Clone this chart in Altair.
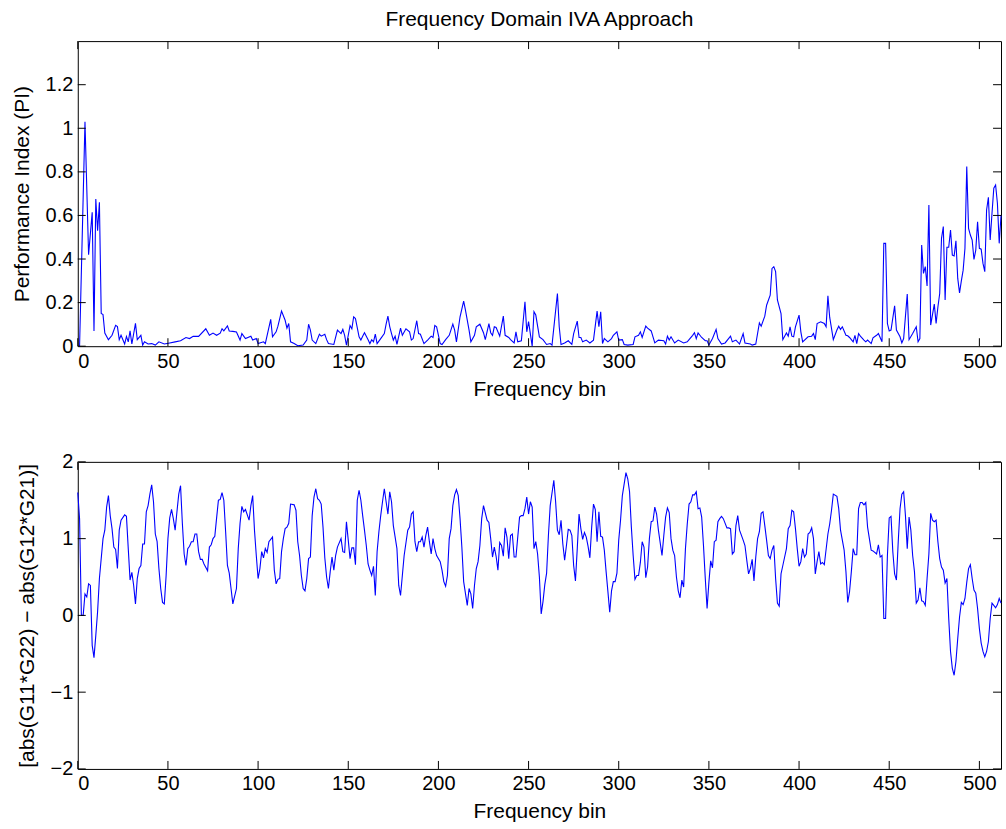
import altair as alt
import pandas as pd

# Performance index per frequency bin (upper panel)
pi_bins = [1, 4, 6, 8, 9, 10, 11, 12, 13, 14, 15, 17, 19, 21, 22, 23, 24, 26, 27, 28, 29, 30, 32, 33, 35, 36, 37, 39,
           41, 43, 45, 48, 51, 54, 57, 60, 62, 64, 67, 71, 73, 75, 77, 79, 80, 81, 83, 84, 86, 88, 90, 91, 93, 96, 97,
           99, 100, 103, 104, 107, 108, 110, 111, 113, 115, 116, 117, 118, 120, 122, 125, 127, 128, 129, 130, 132, 134,
           135, 137, 138, 139, 142, 144, 146, 147, 148, 149, 151, 152, 153, 154, 156, 157, 158, 159, 161, 162, 163, 164,
           165, 166, 168, 170, 171, 172, 173, 174, 175, 176, 177, 179, 180, 182, 184, 185, 186, 188, 189, 190, 192, 194,
           196, 197, 198, 199, 201, 202, 204, 206, 208, 209, 210, 212, 214, 215, 217, 218, 220, 221, 223, 225, 226, 228,
           229, 230, 231, 232, 234, 236, 237, 239, 240, 242, 243, 244, 246, 248, 249, 250, 252, 253, 254, 256, 258, 260,
           262, 263, 266, 267, 268, 270, 272, 274, 275, 277, 278, 279, 280, 282, 284, 286, 288, 289, 290, 291, 292, 294,
           296, 297, 299, 300, 302, 303, 305, 308, 309, 311, 312, 313, 315, 316, 318, 320, 322, 325, 326, 327, 328, 329,
           331, 333, 336, 338, 339, 341, 342, 343, 344, 346, 348, 349, 350, 352, 354, 355, 357, 359, 362, 363, 365, 367,
           369, 370, 373, 374, 376, 378, 379, 381, 382, 384, 385, 386, 387, 388, 390, 391, 393, 394, 395, 396, 397, 398,
           400, 401, 402, 405, 407, 408, 409, 410, 412, 414, 415, 416, 417, 419, 421, 422, 423, 424, 426, 427, 428, 429,
           430, 431, 432, 433, 434, 436, 437, 438, 440, 441, 443, 444, 446, 447, 448, 449, 450, 451, 453, 454, 456, 457,
           458, 460, 461, 463, 465, 466, 467, 468, 469, 470, 471, 472, 473, 475, 476, 477, 478, 479, 480, 481, 482, 483,
           484, 485, 486, 487, 488, 489, 490, 491, 492, 493, 494, 495, 496, 497, 498, 499, 500, 501, 502, 503, 504, 505,
           506, 507, 508, 509, 510, 511, 512]
pi_vals = [0.0, 1.03, 0.42, 0.615, 0.07, 0.675, 0.53, 0.66, 0.15, 0.145, 0.06, 0.03, 0.05, 0.096, 0.09, 0.03, 0.05,
           0.01, 0.045, 0.02, 0.07, 0.01, 0.105, 0.03, 0.05, 0.005, 0.02, 0.01, 0.012, 0.005, 0.02, 0.01, 0.015, 0.02,
           0.025, 0.04, 0.035, 0.045, 0.045, 0.08, 0.05, 0.06, 0.05, 0.06, 0.08, 0.07, 0.093, 0.07, 0.068, 0.065, 0.028,
           0.058, 0.035, 0.046, 0.028, 0.035, 0.012, 0.02, 0.012, 0.123, 0.043, 0.066, 0.092, 0.161, 0.119, 0.083, 0.104,
           0.02, 0.012, 0.002, 0.005, 0.028, 0.101, 0.074, 0.028, 0.012, 0.055, 0.046, 0.055, 0.03, 0.012, 0.008, 0.074,
           0.058, 0.077, 0.05, 0.005, 0.095, 0.08, 0.135, 0.127, 0.043, 0.028, 0.046, 0.062, 0.03, 0.012, 0.03, 0.02,
           0.055, 0.012, 0.035, 0.058, 0.101, 0.138, 0.09, 0.058, 0.028, 0.046, 0.008, 0.083, 0.05, 0.08, 0.066, 0.028,
           0.035, 0.117, 0.058, 0.055, 0.012, 0.028, 0.046, 0.04, 0.095, 0.089, 0.012, 0.008, 0.03, 0.05, 0.101, 0.074,
           0.02, 0.135, 0.207, 0.166, 0.074, 0.02, 0.05, 0.089, 0.101, 0.062, 0.03, 0.104, 0.062, 0.05, 0.089, 0.086,
           0.046, 0.138, 0.05, 0.04, 0.03, 0.015, 0.066, 0.02, 0.025, 0.204, 0.066, 0.113, 0.0, 0.158, 0.143, 0.043,
           0.03, 0.008, 0.012, 0.005, 0.242, 0.089, 0.008, 0.015, 0.025, 0.008, 0.058, 0.115, 0.04, 0.04, 0.02, 0.028,
           0.015, 0.028, 0.161, 0.089, 0.158, 0.012, 0.035, 0.02, 0.035, 0.05, 0.066, 0.028, 0.03, 0.008, 0.005, 0.008,
           0.043, 0.05, 0.066, 0.04, 0.092, 0.083, 0.07, 0.015, 0.028, 0.025, 0.01, 0.046, 0.028, 0.043, 0.015, 0.028,
           0.015, 0.02, 0.03, 0.05, 0.062, 0.035, 0.061, 0.04, 0.025, 0.025, 0.005, 0.035, 0.077, 0.035, 0.01, 0.015,
           0.046, 0.02, 0.028, 0.01, 0.058, 0.015, 0.01, 0.005, 0.01, 0.107, 0.092, 0.138, 0.188, 0.234, 0.357, 0.365,
           0.342, 0.212, 0.15, 0.03, 0.061, 0.046, 0.089, 0.046, 0.043, 0.089, 0.143, 0.066, 0.02, 0.043, 0.046, 0.058,
           0.03, 0.104, 0.112, 0.104, 0.089, 0.231, 0.132, 0.03, 0.074, 0.092, 0.077, 0.089, 0.05, 0.048, 0.04, 0.03,
           0.02, 0.05, 0.012, 0.058, 0.046, 0.028, 0.02, 0.028, 0.012, 0.038, 0.05, 0.058, 0.02, 0.472, 0.472, 0.104,
           0.07, 0.074, 0.185, 0.074, 0.043, 0.015, 0.035, 0.239, 0.03, 0.058, 0.089, 0.02, 0.035, 0.464, 0.334, 0.365,
           0.276, 0.648, 0.097, 0.193, 0.104, 0.18, 0.242, 0.495, 0.549, 0.212, 0.454, 0.454, 0.533, 0.418, 0.414,
           0.484, 0.311, 0.245, 0.3, 0.349, 0.449, 0.824, 0.541, 0.51, 0.487, 0.398, 0.441, 0.571, 0.449, 0.445, 0.38,
           0.342, 0.625, 0.683, 0.487, 0.61, 0.725, 0.74, 0.656, 0.472, 0.6]

# Magnitude difference per frequency bin (lower panel)
diff_bins = [0, 1, 2, 3, 4, 5, 6, 7, 8, 9, 10, 11, 12, 14, 15, 16, 17, 18, 19, 20, 21, 22, 23, 24, 26, 27, 28, 29, 30,
             31, 32, 33, 34, 35, 36, 37, 38, 39, 40, 41, 42, 43, 44, 45, 46, 47, 48, 49, 50, 51, 52, 53, 54, 55, 56, 57,
             58, 59, 60, 61, 62, 63, 64, 65, 66, 67, 68, 69, 70, 72, 73, 74, 75, 76, 77, 78, 79, 80, 81, 82, 83, 84, 85,
             86, 88, 89, 90, 91, 92, 93, 95, 96, 97, 98, 99, 100, 101, 102, 103, 104, 105, 106, 108, 109, 110, 111, 112,
             113, 114, 115, 116, 117, 118, 120, 121, 122, 123, 124, 125, 126, 127, 128, 129, 130, 131, 132, 133, 134, 135,
             136, 137, 138, 139, 140, 141, 142, 143, 144, 146, 147, 148, 149, 150, 151, 152, 153, 154, 155, 156, 157, 158,
             159, 160, 161, 162, 163, 164, 165, 166, 167, 168, 169, 170, 171, 172, 173, 174, 175, 177, 178, 179, 180, 181,
             183, 184, 185, 186, 187, 188, 189, 190, 191, 192, 193, 194, 195, 196, 197, 198, 199, 201, 202, 203, 204, 205,
             206, 207, 208, 209, 210, 211, 212, 213, 214, 216, 217, 218, 219, 220, 221, 222, 223, 224, 225, 227, 228, 229,
             230, 231, 232, 233, 234, 235, 236, 237, 238, 239, 240, 241, 242, 243, 245, 246, 247, 248, 249, 250, 251, 252,
             253, 254, 255, 256, 257, 258, 259, 260, 261, 262, 264, 265, 266, 267, 268, 269, 270, 271, 272, 273, 274, 275,
             276, 277, 278, 279, 280, 281, 282, 283, 284, 285, 286, 287, 288, 289, 290, 291, 292, 293, 294, 295, 296, 297,
             298, 299, 300, 301, 302, 304, 305, 306, 307, 308, 309, 310, 311, 312, 313, 314, 315, 316, 317, 318, 319, 320,
             321, 322, 324, 325, 326, 327, 328, 329, 330, 331, 332, 333, 334, 335, 336, 337, 338, 339, 340, 341, 342, 343,
             344, 345, 346, 347, 348, 349, 350, 351, 352, 353, 354, 355, 356, 357, 358, 360, 361, 362, 363, 364, 365, 366,
             367, 369, 370, 371, 372, 373, 374, 375, 376, 377, 378, 379, 380, 381, 382, 383, 384, 385, 386, 387, 388, 389,
             390, 391, 393, 394, 395, 396, 397, 398, 399, 400, 401, 402, 403, 404, 405, 406, 407, 408, 409, 410, 411, 412,
             413, 414, 416, 417, 418, 419, 421, 422, 423, 425, 426, 427, 428, 429, 430, 431, 432, 433, 434, 435, 436, 437,
             438, 439, 440, 441, 443, 444, 445, 446, 447, 448, 449, 450, 451, 452, 453, 454, 455, 456, 457, 458, 459, 460,
             461, 462, 463, 464, 465, 466, 467, 468, 469, 470, 471, 472, 473, 474, 475, 476, 477, 478, 479, 480, 481, 482,
             483, 484, 485, 486, 487, 488, 489, 490, 491, 492, 493, 494, 495, 496, 497, 498, 499, 500, 501, 502, 503, 504,
             505, 506, 507, 508, 509, 510, 511, 512]
diff_vals = [1.6, 1.26, 0.0, 0.0, 0.28, 0.24, 0.41, 0.39, -0.39, -0.55, -0.26, 0.05, 0.48, 1.0, 1.11, 1.41, 1.56, 1.3,
             1.13, 0.89, 0.86, 0.61, 1.11, 1.24, 1.31, 1.29, 0.87, 0.46, 0.56, 0.39, 0.15, 0.48, 0.61, 0.65, 0.93, 0.93,
             1.35, 1.43, 1.58, 1.7, 1.48, 1.06, 0.96, 0.61, 0.35, 0.17, 0.15, 0.52, 1.0, 1.27, 1.38, 1.26, 1.11, 1.35,
             1.58, 1.69, 1.2, 0.8, 0.65, 0.87, 0.9, 0.96, 0.96, 1.06, 1.06, 0.83, 0.73, 0.73, 0.67, 0.58, 0.89, 0.92,
             1.0, 1.03, 1.27, 1.5, 1.51, 1.6, 1.5, 1.09, 0.65, 0.55, 0.35, 0.15, 0.35, 0.87, 1.2, 1.42, 1.35, 1.38, 1.24,
             1.43, 1.56, 1.11, 0.78, 0.48, 0.61, 0.83, 0.75, 0.87, 0.82, 0.96, 1.02, 0.59, 0.41, 0.47, 0.48, 0.83, 1.0,
             1.13, 1.15, 1.2, 1.45, 1.44, 1.37, 0.96, 0.78, 0.52, 0.35, 0.32, 0.48, 0.74, 0.76, 1.3, 1.54, 1.65, 1.52,
             1.5, 1.45, 1.15, 0.75, 0.5, 0.35, 0.57, 0.76, 0.59, 0.78, 0.89, 1.0, 0.83, 0.82, 1.22, 0.98, 0.74, 0.88,
             0.88, 0.66, 1.5, 1.63, 1.5, 1.3, 1.11, 0.91, 0.67, 0.59, 0.52, 0.64, 0.26, 0.83, 1.09, 1.3, 1.48, 1.65,
             1.48, 1.32, 1.61, 1.48, 1.17, 0.87, 0.39, 0.26, 0.52, 0.78, 1.11, 1.15, 1.32, 1.35, 0.96, 0.83, 0.96, 0.96,
             1.02, 0.89, 1.04, 1.15, 0.96, 0.8, 1.0, 0.87, 0.78, 0.7, 0.59, 0.44, 0.38, 0.52, 1.0, 1.13, 1.43, 1.57,
             1.64, 1.56, 1.26, 0.89, 0.44, 0.13, 0.35, 0.28, 0.09, 0.39, 0.61, 0.7, 0.91, 1.26, 1.43, 1.24, 1.21, 1.0,
             0.76, 0.89, 0.77, 0.59, 0.95, 0.91, 0.77, 1.14, 1.02, 0.74, 1.04, 1.06, 0.76, 0.76, 1.28, 1.3, 1.3, 1.39,
             1.54, 1.32, 1.48, 1.41, 0.87, 0.96, 0.8, 0.5, 0.02, 0.18, 0.4, 0.55, 1.04, 1.43, 1.76, 1.48, 1.11, 1.05,
             1.24, 0.93, 0.72, 0.91, 1.12, 1.11, 1.04, 0.65, 0.45, 0.87, 1.32, 1.13, 0.99, 1.08, 1.02, 0.9, 0.75, 1.15,
             1.45, 1.38, 0.96, 1.35, 1.03, 1.02, 0.85, 0.57, 0.31, 0.04, 0.32, 0.44, 0.44, 0.55, 0.98, 1.24, 1.56, 1.86,
             1.78, 1.61, 1.15, 0.78, 0.47, 0.52, 0.52, 0.69, 0.96, 0.89, 0.49, 0.63, 1.0, 1.22, 1.23, 1.41, 1.32, 1.11,
             0.78, 1.04, 1.28, 1.4, 1.34, 1.0, 0.85, 0.78, 0.5, 0.32, 0.23, 0.46, 0.37, 0.87, 1.19, 1.45, 1.48, 1.57,
             1.57, 1.61, 1.39, 1.4, 1.28, 0.91, 0.48, 0.09, 0.43, 0.71, 0.62, 0.96, 0.98, 1.22, 1.26, 1.29, 1.26, 1.14,
             1.14, 1.13, 0.8, 0.83, 1.17, 1.3, 1.11, 0.98, 0.91, 0.72, 0.54, 0.61, 0.73, 0.45, 0.76, 1.0, 1.09, 1.33,
             1.35, 1.17, 0.98, 0.78, 0.74, 0.85, 0.91, 0.48, 0.16, 0.12, 0.54, 0.65, 0.87, 1.13, 1.17, 1.37, 1.35, 1.13,
             0.87, 0.64, 0.7, 0.87, 0.76, 0.8, 1.06, 1.08, 1.14, 1.0, 0.54, 0.7, 0.83, 0.67, 0.69, 0.66, 1.06, 1.19,
             1.37, 1.58, 1.55, 1.39, 1.11, 0.85, 0.57, 0.17, 0.31, 0.57, 0.87, 0.79, 0.79, 1.39, 1.47, 1.47, 1.44, 1.47,
             1.15, 1.0, 0.85, 0.84, 0.8, 0.92, 0.76, 0.78, -0.04, -0.04, 0.78, 1.27, 1.29, 0.83, 0.54, 0.46, 0.96, 1.39,
             1.58, 1.61, 1.3, 0.87, 1.28, 1.11, 0.78, 0.57, 0.16, 0.2, 0.36, 0.19, 0.18, 0.13, 0.48, 0.8, 1.33, 1.24,
             1.22, 1.24, 0.96, 0.74, 0.63, 0.59, 0.42, 0.48, -0.04, -0.47, -0.69, -0.78, -0.6, -0.3, -0.02, 0.17, 0.14,
             0.22, 0.43, 0.61, 0.66, 0.48, 0.33, 0.29, 0.09, -0.17, -0.36, -0.47, -0.54, -0.47, -0.34, -0.04, 0.16,
             0.13, 0.1, 0.14, 0.22, 0.16]

x_ticks = [0, 50, 100, 150, 200, 250, 300, 350, 400, 450, 500]
pi_ticks = [0, 0.2, 0.4, 0.6, 0.8, 1.0, 1.2]
diff_ticks = [-2, -1, 0, 1, 2]

FONT = "Liberation Sans"
FS = 20        # tick labels
FS_TITLE = 21  # axis titles and chart title
BLUE = "#0000ff"
W = 926
TICK = 8


def panel(bins, vals, ydomain, yticks, ytitle, height, title=None):
    line_df = pd.DataFrame({"bin": bins, "value": vals})
    xt_df = pd.DataFrame({"bin": x_ticks})
    yt_df = pd.DataFrame({"value": yticks})

    x_enc = alt.X("bin:Q",
                  scale=alt.Scale(domain=[0, 512], nice=False, zero=False),
                  axis=alt.Axis(values=x_ticks, title="Frequency bin", ticks=False, domain=False,
                                grid=False, labelPadding=5, titlePadding=7))
    y_enc = alt.Y("value:Q",
                  scale=alt.Scale(domain=ydomain, nice=False, zero=False),
                  axis=alt.Axis(values=yticks, format="~g", title=ytitle, ticks=False, domain=False,
                                grid=False, labelPadding=5, titlePadding=13))

    line = alt.Chart(line_df).mark_line(color=BLUE, strokeWidth=1.1).encode(x=x_enc, y=y_enc)

    # inward tick marks on all four sides of the box
    tb = alt.Chart(xt_df).mark_rule(color="black").encode(
        x=x_enc, y=alt.value(height), y2=alt.value(height - TICK))
    tt = alt.Chart(xt_df).mark_rule(color="black").encode(
        x=x_enc, y=alt.value(0), y2=alt.value(TICK))
    tl = alt.Chart(yt_df).mark_rule(color="black").encode(
        y=y_enc, x=alt.value(0), x2=alt.value(TICK))
    tr = alt.Chart(yt_df).mark_rule(color="black").encode(
        y=y_enc, x=alt.value(W), x2=alt.value(W - TICK))

    props = dict(width=W, height=height)
    if title is not None:
        props["title"] = alt.TitleParams(title, font=FONT, fontSize=FS_TITLE, fontWeight="normal",
                                         color="black", anchor="middle", offset=11)
    return alt.layer(line, tb, tt, tl, tr).properties(**props)


top = panel(pi_bins, pi_vals, [0, 1.4], pi_ticks, "Performance Index (PI)", 306,
            title="Frequency Domain IVA Approach")
bottom = panel(diff_bins, diff_vals, [-2, 2], diff_ticks, "[abs(G11*G22) \u2212 abs(G12*G21)]", 308)

chart = alt.vconcat(top, bottom, spacing=51).properties(
    padding={"left": 10, "top": 7, "right": 2, "bottom": 2},
    background="white",
).configure_view(
    stroke="black", strokeWidth=1
).configure_axis(
    labelFont=FONT, titleFont=FONT, labelFontSize=FS, titleFontSize=FS_TITLE,
    labelColor="black", titleColor="black", titleFontWeight="normal",
)

chart.save("out.html", embed_options={"renderer": "svg", "actions": False})
